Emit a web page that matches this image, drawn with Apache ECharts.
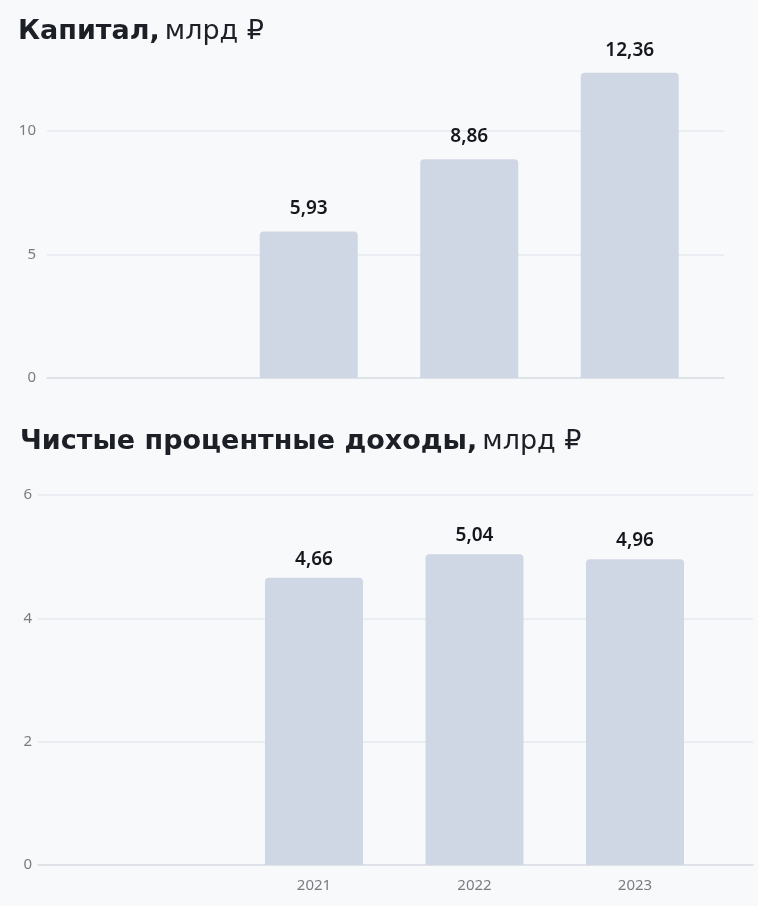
<!DOCTYPE html>
<html>
<head>
<meta charset="utf-8">
<script src="https://cdn.jsdelivr.net/npm/echarts@6/dist/echarts.min.js"></script>
<style>
html,body{margin:0;padding:0;background:#f8f9fb;}
#c{width:758px;height:906px;}
</style>
</head>
<body>
<div id="c"></div>
<script>
const categories = ['', '2021', '2022', '2023'];
const capitalValues = [null, 5.93, 8.86, 12.36];
const incomeValues = [null, 4.66, 5.04, 4.96];
const capitalTicks = { min: 0, max: 15, interval: 5 };
const incomeTicks = { min: 0, max: 6, interval: 2 };

const grid = '#e6e8ee';
const fmt = p => p.value == null ? '' : p.value.toFixed(2).replace('.', ',');
const tickLabel = { color: '#7a7c82', fontSize: 15, fontFamily: 'Noto Sans' };
const titleRich = {
  b: { fontFamily: 'DejaVu Sans', fontWeight: 700, fontSize: 27, color: '#1d1f27' },
  r: { fontFamily: 'DejaVu Sans', fontWeight: 400, fontSize: 27, color: '#1d1f27' }
};

const chart = echarts.init(document.getElementById('c'));
chart.setOption({
  backgroundColor: '#f8f9fb',
  animation: false,
  title: [
    { left: 13, top: 13, text: '{b|Капитал,} {r|млрд ₽}', textStyle: { rich: titleRich } },
    { left: 15, top: 423, text: '{b|Чистые процентные доходы,} {r|млрд ₽}', textStyle: { rich: titleRich } }
  ],
  grid: [
    { left: 47, right: 34, top: 7.5, bottom: 528 },
    { left: 68, right: 48, top: 7.5, bottom: 528 },
    { left: 38, right: 5, top: 495, bottom: 41 },
    { left: 73.25, right: 42.75, top: 495, bottom: 41 }
  ],
  xAxis: [
    { gridIndex: 0, type: 'category', data: categories, axisLabel: { show: false }, axisTick: { show: false },
      axisLine: { lineStyle: { color: '#dcdee4', width: 1.5 } } },
    { gridIndex: 1, type: 'category', data: categories, axisLabel: { show: false }, axisTick: { show: false }, axisLine: { show: false } },
    { gridIndex: 2, type: 'category', data: categories, axisLabel: { show: false }, axisTick: { show: false },
      axisLine: { lineStyle: { color: '#dcdee4', width: 1.5 } } },
    { gridIndex: 3, type: 'category', data: categories, axisTick: { show: false }, axisLine: { show: false },
      axisLabel: Object.assign({ margin: 13 }, tickLabel) }
  ],
  yAxis: [
    { gridIndex: 0, type: 'value', min: capitalTicks.min, max: capitalTicks.max, interval: capitalTicks.interval,
      axisLabel: Object.assign({ margin: 11, showMaxLabel: false }, tickLabel),
      splitLine: { lineStyle: { color: [grid, grid, grid, 'transparent'], width: 1.5 } } },
    { gridIndex: 1, type: 'value', min: capitalTicks.min, max: capitalTicks.max, show: false, splitLine: { show: false } },
    { gridIndex: 2, type: 'value', min: incomeTicks.min, max: incomeTicks.max, interval: incomeTicks.interval,
      axisLabel: Object.assign({ margin: 6 }, tickLabel),
      splitLine: { lineStyle: { color: grid, width: 1.5 } } },
    { gridIndex: 3, type: 'value', min: incomeTicks.min, max: incomeTicks.max, show: false, splitLine: { show: false } }
  ],
  series: [
    { type: 'bar', xAxisIndex: 1, yAxisIndex: 1, data: capitalValues, barWidth: 98,
      itemStyle: { color: '#cfd7e4', borderRadius: [4, 4, 0, 0] },
      label: { show: true, position: 'top', distance: 13, formatter: fmt,
        fontFamily: 'Noto Sans', fontWeight: 600, fontSize: 19, color: '#16171c' } },
    { type: 'bar', xAxisIndex: 3, yAxisIndex: 3, data: incomeValues, barWidth: 98,
      itemStyle: { color: '#cfd7e4', borderRadius: [4, 4, 0, 0] },
      label: { show: true, position: 'top', distance: 9, formatter: fmt,
        fontFamily: 'Noto Sans', fontWeight: 600, fontSize: 19, color: '#16171c' } }
  ]
});
</script>
</body>
</html>
